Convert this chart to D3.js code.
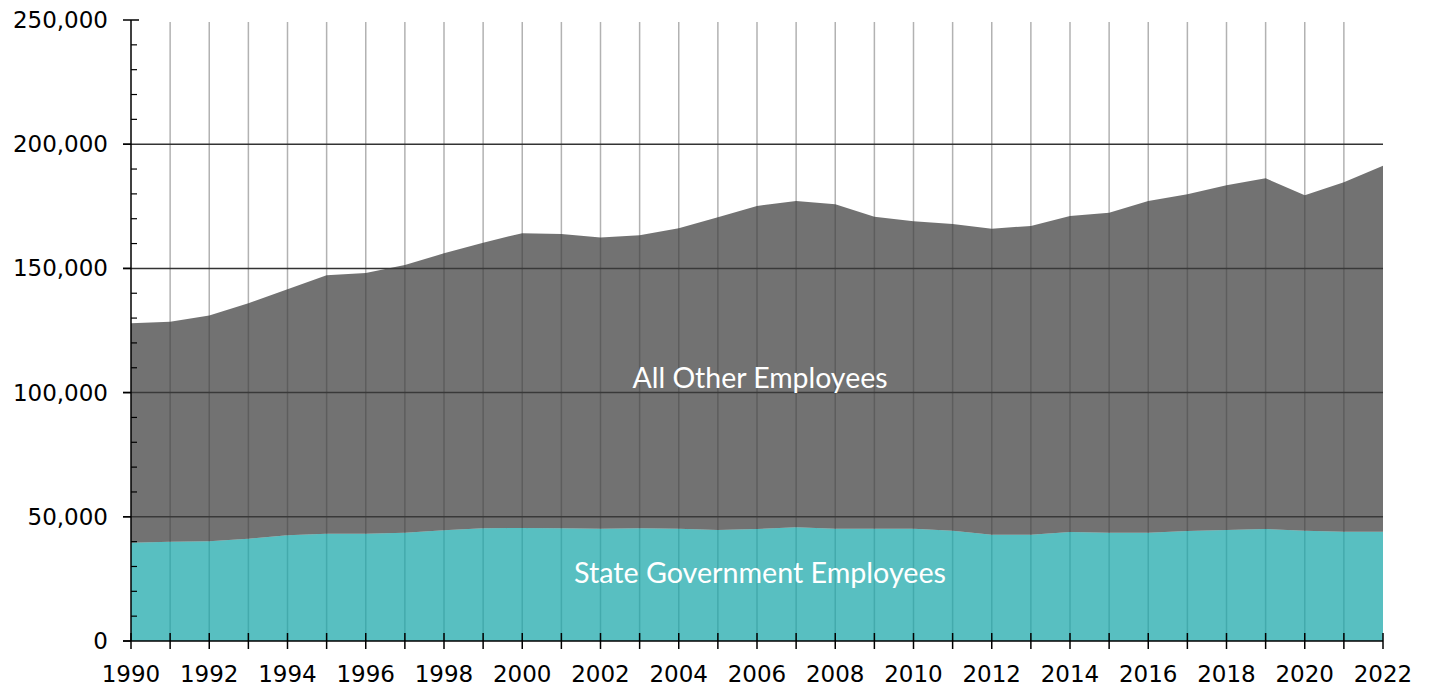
<!DOCTYPE html>
<html>
<head>
<meta charset="utf-8">
<script src="https://cdn.jsdelivr.net/npm/d3@7"></script>
<style>
  html, body { margin: 0; padding: 0; background: #ffffff; }
  svg { display: block; }
</style>
</head>
<body>
<svg id="chart" width="1429" height="686"></svg>
<script>
// ---- data ----
const years = [1990,1991,1992,1993,1994,1995,1996,1997,1998,1999,2000,2001,2002,2003,2004,2005,2006,2007,2008,2009,2010,2011,2012,2013,2014,2015,2016,2017,2018,2019,2020,2021,2022];
const stateGov = [39580,39980,40120,41190,42530,43200,43200,43600,44560,45370,45500,45370,45230,45370,45230,44690,45090,45770,45230,45230,45230,44350,42800,42800,43880,43600,43600,44290,44690,45090,44420,44000,44000];
const allOther = [88320,88570,90880,94760,99050,104020,104950,107770,111510,114990,118700,118430,117160,117950,120910,125880,130030,131370,130570,125600,123720,123520,123200,124270,127220,128830,133540,135530,138750,141170,135000,140650,147360];
const seriesNames = ["State Government Employees", "All Other Employees"];
const yTicks = [0, 50000, 100000, 150000, 200000, 250000];
const yMinorTicks = [10000,20000,30000,40000,60000,70000,80000,90000,110000,120000,130000,140000,160000,170000,180000,190000,210000,220000,230000,240000];
const xLabelYears = [1990,1992,1994,1996,1998,2000,2002,2004,2006,2008,2010,2012,2014,2016,2018,2020,2022];

// ---- layout ----
const L = 131, R = 1383, T = 20, B = 641;
const svg = d3.select("#chart");
const x = d3.scaleLinear().domain([1990, 2022]).range([L, R]);
const y = d3.scaleLinear().domain([0, 250000]).range([B, T]);

const table = years.map((yr, i) => ({ year: yr, state: stateGov[i], other: allOther[i] }));
const stack = d3.stack().keys(["state", "other"]);
const layers = stack(table);

// gridlines (under semi-transparent areas)
const grid = svg.append("g");
grid.selectAll("line.v").data(years.filter(d => d > 1990 && d < 2022)).join("line")
  .attr("x1", d => x(d)).attr("x2", d => x(d))
  .attr("y1", T + 2).attr("y2", B)
  .attr("stroke", "#b2b2b2").attr("stroke-width", 1.5);
grid.selectAll("line.h").data(yTicks.filter(d => d > 0 && d < 250000)).join("line")
  .attr("x1", L - 8).attr("x2", R)
  .attr("y1", d => y(d)).attr("y2", d => y(d))
  .attr("stroke", "#333333").attr("stroke-width", 1.5);

// areas
const fills = { state: "#17a6a9", other: "#3c3c3c" };
const area = d3.area()
  .x(d => x(d.data.year))
  .y0(d => y(d[0]))
  .y1(d => y(d[1]));
svg.append("g").selectAll("path").data(layers).join("path")
  .attr("d", area)
  .attr("fill", d => fills[d.key])
  .attr("fill-opacity", 0.72);

// axes
const axisG = svg.append("g");
axisG.append("line").attr("x1", L).attr("x2", L).attr("y1", T).attr("y2", B)
  .attr("stroke", "#000").attr("stroke-width", 1.5);
axisG.append("line").attr("x1", L - 8).attr("x2", R).attr("y1", B).attr("y2", B)
  .attr("stroke", "#000").attr("stroke-width", 1.5);
// major y ticks
axisG.selectAll("line.ymaj").data(yTicks).join("line")
  .attr("x1", L - 8).attr("x2", d => d === 250000 ? L + 8 : L)
  .attr("y1", d => y(d)).attr("y2", d => y(d))
  .attr("stroke", "#000").attr("stroke-width", 1.5);
// minor y ticks
axisG.selectAll("line.ymin").data(yMinorTicks).join("line")
  .attr("x1", L).attr("x2", L + 6)
  .attr("y1", d => y(d)).attr("y2", d => y(d))
  .attr("stroke", "#000").attr("stroke-width", 1.2);
// x ticks
axisG.selectAll("line.xt").data(years).join("line")
  .attr("x1", d => x(d)).attr("x2", d => x(d))
  .attr("y1", B - 8).attr("y2", B + 8)
  .attr("stroke", "#000").attr("stroke-width", 1.5);

const fmt = d3.format(",");
axisG.selectAll("text.yl").data(yTicks).join("text")
  .attr("x", L - 23).attr("y", d => y(d))
  .attr("text-anchor", "end").attr("dominant-baseline", "central")
  .attr("font-family", "DejaVu Sans, Verdana, sans-serif").attr("font-size", 23)
  .attr("fill", "#000")
  .text(d => fmt(d));
axisG.selectAll("text.xl").data(xLabelYears).join("text")
  .attr("x", d => x(d)).attr("y", 682)
  .attr("text-anchor", "middle")
  .attr("font-family", "DejaVu Sans, Verdana, sans-serif").attr("font-size", 23)
  .attr("fill", "#000")
  .text(d => d);

// series labels
const labelSpecs = [
  { text: seriesNames[1], cx: 760, base: 388, width: 255 },
  { text: seriesNames[0], cx: 760, base: 583, width: 372 }
];
labelSpecs.forEach(s => {
  const t = svg.append("text")
    .attr("x", s.cx).attr("y", s.base)
    .attr("text-anchor", "middle")
    .attr("font-family", "Lato, 'Open Sans', sans-serif")
    .attr("font-size", 28)
    .attr("fill", "#ffffff")
    .text(s.text);
  const w = t.node().getComputedTextLength();
  t.attr("font-size", 28 * s.width / w);
});
</script>
</body>
</html>
